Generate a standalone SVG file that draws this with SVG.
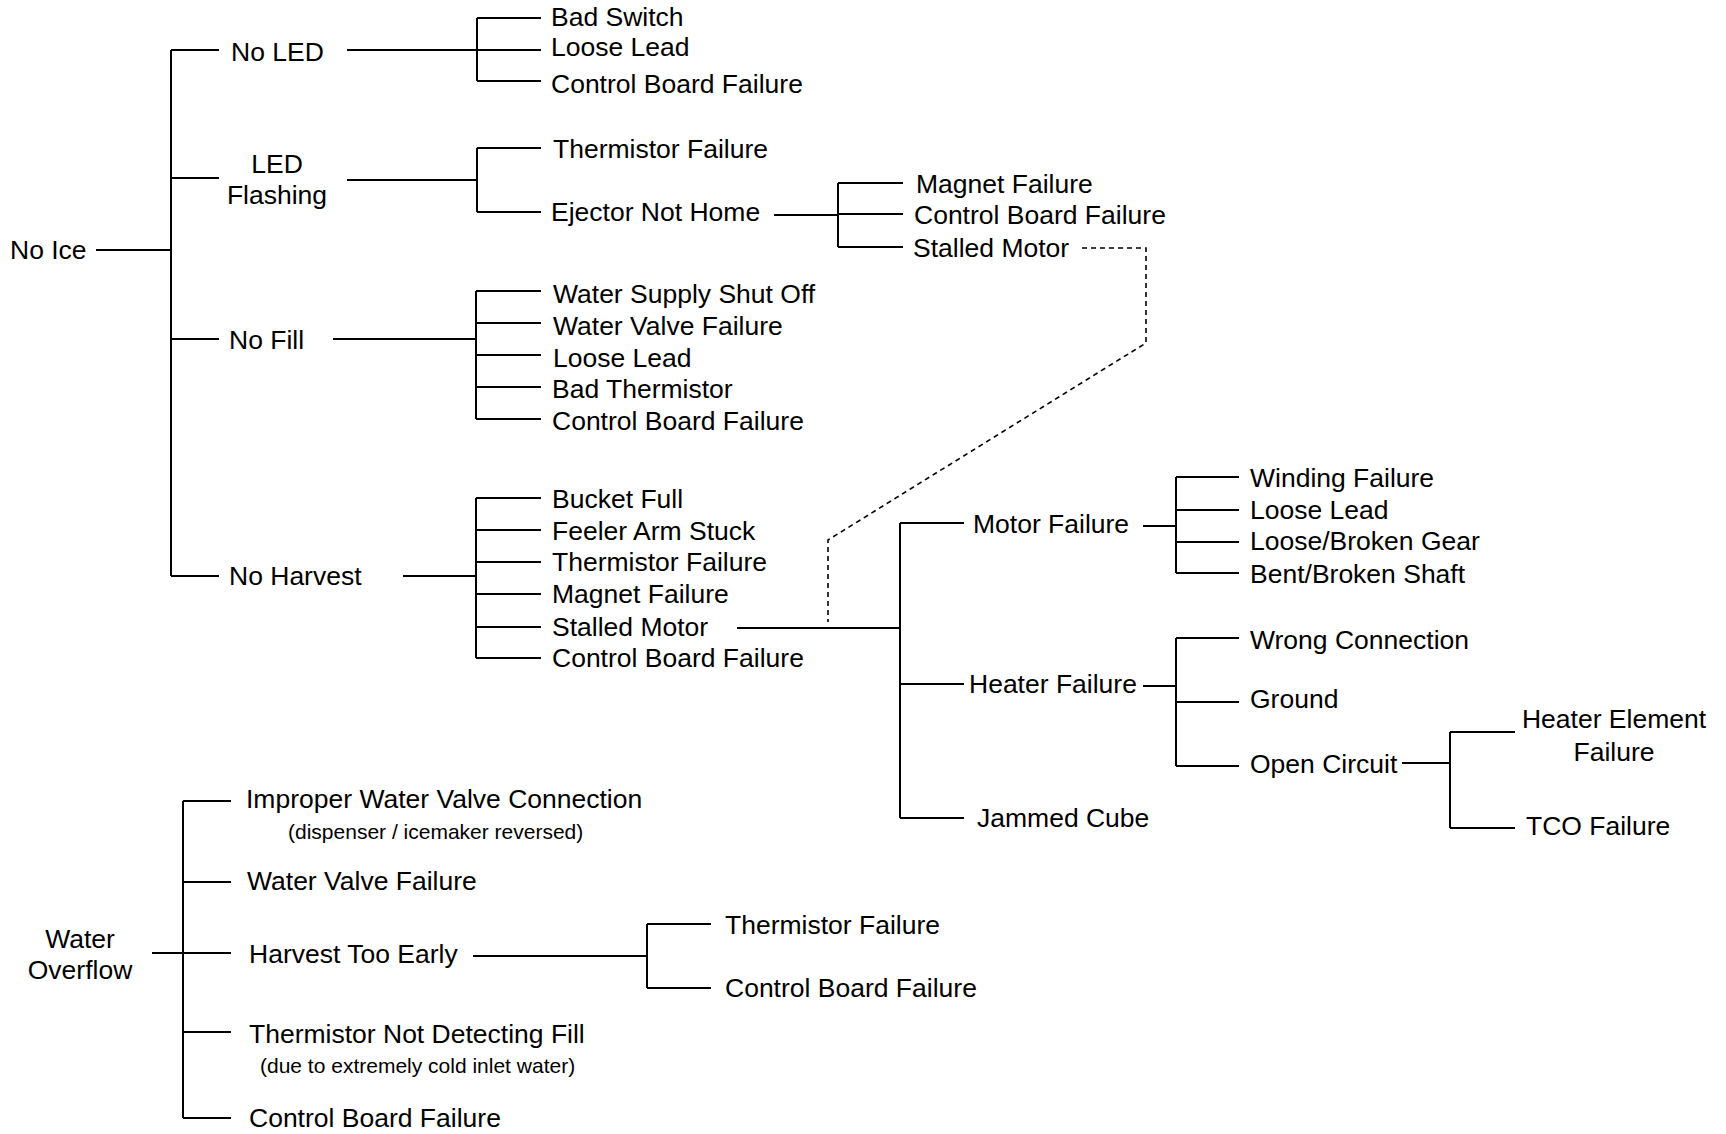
<svg xmlns="http://www.w3.org/2000/svg" width="1726" height="1134" viewBox="0 0 1726 1134">
<style>
text{font-family:"Liberation Sans",Arial,sans-serif;font-size:26.5px;fill:#000}
.s{font-size:21px}
.c{text-anchor:middle}
#connectors path{fill:none;stroke:#000;stroke-width:2}
#connectors path.d{stroke-width:1.6;stroke-dasharray:5 4}
</style>
<rect width="1726" height="1134" fill="#fff"/>
<g id="connectors">
<path d="M96,250H171M171,50V576M171,50H219M171,178H219M171,339H219M171,576H219"/>
<path d="M347,50H477M477,18V81M477,18H541M477,50H541M477,81H541"/>
<path d="M347,180H477M477,148V212M477,148H541M477,212H541"/>
<path d="M774,215H838M838,183V247M838,183H903M838,214H903M838,247H903"/>
<path d="M333,339H476M476,291V419M476,291H541M476,323H541M476,355H541M476,387H541M476,419H541"/>
<path d="M403,576H476M476,498V658M476,498H541M476,530H541M476,562H541M476,594H541M476,627H541M476,658H541"/>
<path d="M737,628H900M900,523V818M900,523H964M900,684H964M900,818H964"/>
<path d="M1143,526H1176M1176,477V573M1176,477H1239M1176,510H1239M1176,542H1239M1176,573H1239"/>
<path d="M1143,686H1176M1176,638V766M1176,638H1239M1176,702H1239M1176,766H1239"/>
<path d="M1402,763H1450M1450,732V828M1450,732H1515M1450,828H1515"/>
<path class="d" d="M1082,248H1146V343L828,540V622"/>
<path d="M152,953H183M183,801V1118M183,801H231M183,882H231M183,953H231M183,1032H231M183,1118H231"/>
<path d="M473,956H647M647,924V988M647,924H711M647,988H711"/>
</g>
<g id="no-ice"><text x="10" y="259">No Ice</text></g>
<g id="no-led"><text x="231" y="61">No LED</text></g>
<g id="led-flashing"><text class="c" x="277" y="173">LED</text><text class="c" x="277" y="204">Flashing</text></g>
<g id="no-fill"><text x="229" y="349">No Fill</text></g>
<g id="no-harvest"><text x="229" y="585">No Harvest</text></g>
<g id="bad-switch"><text x="551" y="26">Bad Switch</text></g>
<g id="loose-lead-1"><text x="551" y="56">Loose Lead</text></g>
<g id="cbf-1"><text x="551" y="93">Control Board Failure</text></g>
<g id="thermistor-failure-1"><text x="553" y="158">Thermistor Failure</text></g>
<g id="ejector-not-home"><text x="551" y="221">Ejector Not Home</text></g>
<g id="magnet-failure-1"><text x="916" y="193">Magnet Failure</text></g>
<g id="cbf-2"><text x="914" y="224">Control Board Failure</text></g>
<g id="stalled-motor-1"><text x="913" y="257">Stalled Motor</text></g>
<g id="water-supply"><text x="553" y="303">Water Supply Shut Off</text></g>
<g id="water-valve-1"><text x="553" y="335">Water Valve Failure</text></g>
<g id="loose-lead-2"><text x="553" y="367">Loose Lead</text></g>
<g id="bad-thermistor"><text x="552" y="398">Bad Thermistor</text></g>
<g id="cbf-3"><text x="552" y="430">Control Board Failure</text></g>
<g id="bucket-full"><text x="552" y="508">Bucket Full</text></g>
<g id="feeler-arm"><text x="552" y="540">Feeler Arm Stuck</text></g>
<g id="thermistor-failure-2"><text x="552" y="571">Thermistor Failure</text></g>
<g id="magnet-failure-2"><text x="552" y="603">Magnet Failure</text></g>
<g id="stalled-motor-2"><text x="552" y="636">Stalled Motor</text></g>
<g id="cbf-4"><text x="552" y="667">Control Board Failure</text></g>
<g id="motor-failure"><text x="973" y="533">Motor Failure</text></g>
<g id="heater-failure"><text x="969" y="693">Heater Failure</text></g>
<g id="jammed-cube"><text x="977" y="827">Jammed Cube</text></g>
<g id="winding-failure"><text x="1250" y="487">Winding Failure</text></g>
<g id="loose-lead-3"><text x="1250" y="519">Loose Lead</text></g>
<g id="broken-gear"><text x="1250" y="550">Loose/Broken Gear</text></g>
<g id="broken-shaft"><text x="1250" y="583">Bent/Broken Shaft</text></g>
<g id="wrong-connection"><text x="1250" y="649">Wrong Connection</text></g>
<g id="ground"><text x="1250" y="708">Ground</text></g>
<g id="open-circuit"><text x="1250" y="773">Open Circuit</text></g>
<g id="heater-element"><text class="c" x="1614" y="728">Heater Element</text><text class="c" x="1614" y="761">Failure</text></g>
<g id="tco-failure"><text x="1526" y="835">TCO Failure</text></g>
<g id="water-overflow"><text class="c" x="80" y="948">Water</text><text class="c" x="80" y="979">Overflow</text></g>
<g id="improper-connection"><text x="246" y="808">Improper Water Valve Connection</text><text class="s" x="288" y="839">(dispenser / icemaker reversed)</text></g>
<g id="water-valve-2"><text x="247" y="890">Water Valve Failure</text></g>
<g id="harvest-too-early"><text x="249" y="963">Harvest Too Early</text></g>
<g id="thermistor-failure-3"><text x="725" y="934">Thermistor Failure</text></g>
<g id="cbf-5"><text x="725" y="997">Control Board Failure</text></g>
<g id="thermistor-not-detecting"><text x="249" y="1043">Thermistor Not Detecting Fill</text><text class="s" x="260" y="1073">(due to extremely cold inlet water)</text></g>
<g id="cbf-6"><text x="249" y="1127">Control Board Failure</text></g>
</svg>
